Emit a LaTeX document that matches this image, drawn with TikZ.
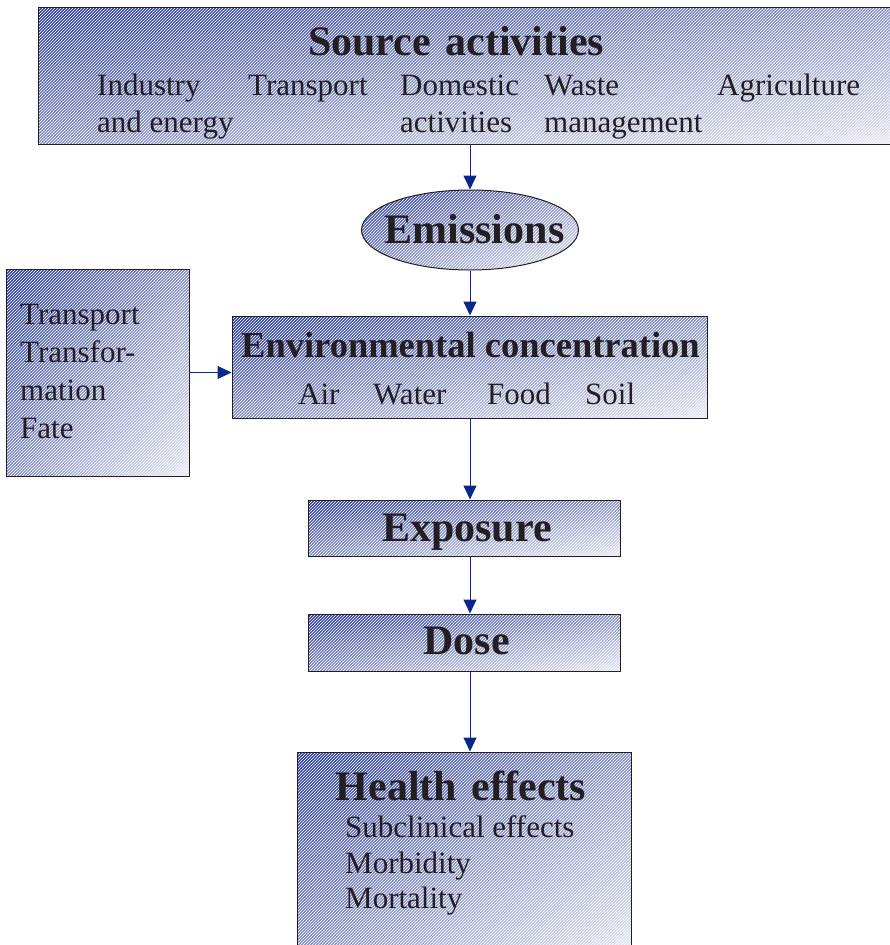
\documentclass[tikz,border=0pt]{standalone}
\usepackage{fontspec}
\setmainfont{Liberation Serif}
\usetikzlibrary{shapes.geometric,arrows.meta,patterns}

\definecolor{darkblue}{RGB}{40,58,155}
\definecolor{midblue}{RGB}{140,150,202}
\definecolor{paleblue}{RGB}{230,232,244}
\definecolor{arrowblue}{RGB}{10,40,140}
\definecolor{inkgray}{RGB}{35,31,32}

\newcommand*{\picw}{889}
\newcommand*{\pich}{945}

\begin{document}
\begin{tikzpicture}
[
	% left-right shading, half of a top-bottom one over it, hatching, then the border
	box/.style={inner sep=0pt,line width=1pt,
		left color=darkblue,right color=paleblue,middle color=midblue,
		postaction={top color=darkblue,bottom color=paleblue,middle color=midblue,fill opacity=0.5},
		postaction={pattern=north east lines,pattern color=white,fill opacity=0.12},
		postaction={draw=inkgray}},
	title/.style={text=inkgray,font=\fontsize{42}{48}\selectfont\bfseries,anchor=base,inner sep=0pt},
	item/.style={text=inkgray,font=\fontsize{31}{37}\selectfont,anchor=base west,inner sep=0pt},
	flow/.style={draw=arrowblue,line width=1pt,-{Triangle[length=14pt,width=13pt]}},
	x=1pt,y=-1pt
]

	\useasboundingbox (0,0) rectangle (\picw,\pich);

	% boxes
	\node[box,minimum width=857pt,minimum height=137pt] (source) at (466.5,75.5) {};
	\node[box,ellipse,minimum width=217pt,minimum height=80pt] (emis) at (470,230) {};
	\node[box,minimum width=475pt,minimum height=102pt] (env) at (469.5,367) {};
	\node[box,minimum width=183pt,minimum height=207pt] (fatebox) at (97.5,372.5) {};
	\node[box,minimum width=312pt,minimum height=56pt] (expo) at (464,528) {};
	\node[box,minimum width=312pt,minimum height=57pt] (dose) at (464,642.5) {};
	\node[box,minimum width=334pt,minimum height=200pt] (health) at (464,852) {};

	% source activities
	\node[title] (srctitle) at (456,55) {Source\hspace{4pt} activities};
	\node[item] (industry) at (97,95) {Industry};
	\node[item] (energy) at (97,132) {and energy};
	\node[item] (transport) at (248,95) {Transport};
	\node[item] (domestic) at (400,95) {Domestic};
	\node[item] (activities) at (400,132) {activities};
	\node[item] (waste) at (544,95) {Waste};
	\node[item] (management) at (544,132) {management};
	\node[item] (agriculture) at (717,95) {Agriculture};

	% emissions
	\node[title] (emtitle) at (474.5,243) {Emissions};

	% environmental concentration
	\node[title,font=\fontsize{36.5}{42}\selectfont\bfseries] (envtitle) at (470.5,357) {Environmental concentration};
	\node[item] (air) at (298,404) {Air};
	\node[item] (water) at (373,404) {Water};
	\node[item] (food) at (487,404) {Food};
	\node[item] (soil) at (585,404) {Soil};

	% transport and fate
	\node[item] (ftransport) at (20,324) {Transport};
	\node[item] (ftransfor) at (20,362) {Transfor-};
	\node[item] (fmation) at (20,400) {mation};
	\node[item] (ffate) at (20,438) {Fate};

	% exposure, dose
	\node[title] (expotitle) at (467,541) {Exposure};
	\node[title] (dosetitle) at (466.5,654) {Dose};

	% health effects
	\node[title] (healthtitle) at (461,800) {Health\hspace{4pt} effects};
	\node[item] (subclinical) at (345,837) {Subclinical effects};
	\node[item] (morbidity) at (345,873) {Morbidity};
	\node[item] (mortality) at (345,908) {Mortality};

	% arrows
	\draw[flow] (source.south -| emis.north) -- (emis.north);
	\draw[flow] (emis.south) -- (env.north -| emis.south);
	\draw[flow] (fatebox.east) -- (fatebox.east -| env.west);
	\draw[flow] (env.south -| emis.south) -- (expo.north -| emis.south);
	\draw[flow] (expo.south -| emis.south) -- (dose.north -| emis.south);
	\draw[flow] (dose.south -| emis.south) -- (health.north -| emis.south);

\end{tikzpicture}
\end{document}
